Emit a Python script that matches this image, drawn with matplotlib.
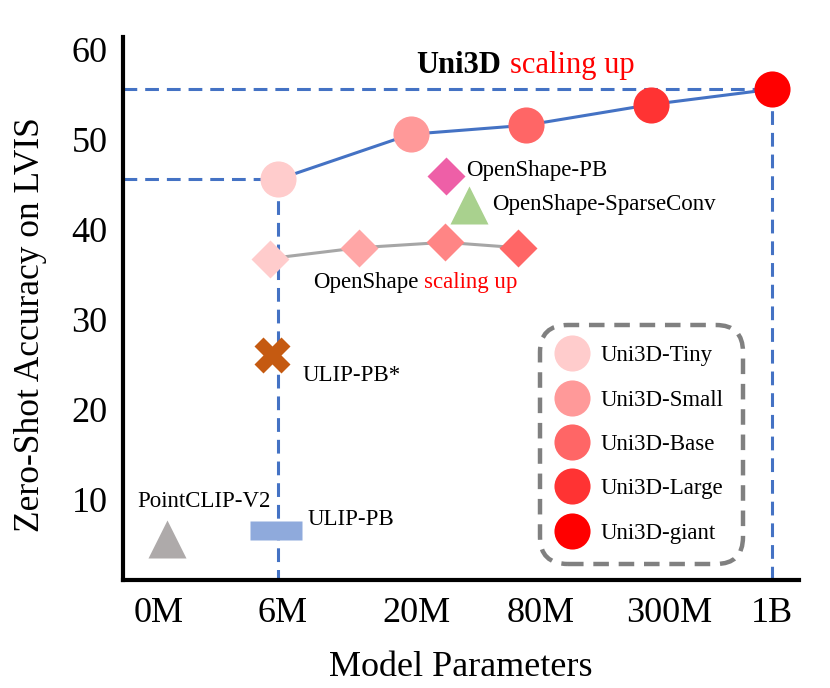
import matplotlib
matplotlib.use("Agg")
import matplotlib.pyplot as plt
from matplotlib.path import Path

plt.rcParams['font.family'] = ['Liberation Serif', 'DejaVu Serif']

# ---------------- data ----------------
tick_pos = [0.0, 1.01, 2.10, 3.11, 4.16, 5.0]
tick_labels = ["0M", "6M", "20M", "80M", "300M", "1B"]
y_ticks = [10, 20, 30, 40, 50, 60]

uni3d_names = ["Uni3D-Tiny", "Uni3D-Small", "Uni3D-Base", "Uni3D-Large", "Uni3D-giant"]
uni3d_x = [0.976, 2.055, 2.995, 4.014, 5.0]
uni3d_y = [45.6, 50.6, 51.6, 53.9, 55.6]
uni3d_colors = ["#FFCCCC", "#FF9999", "#FF6666", "#FF3333", "#FF0000"]

openshape_x = [0.909, 1.634, 2.335, 2.93]
openshape_y = [36.8, 38.0, 38.6, 38.0]
openshape_colors = ["#FFCCCC", "#FFA6A6", "#FF8585", "#FF6666"]

others_names = ["OpenShape-PB", "OpenShape-SparseConv", "ULIP-PB*", "ULIP-PB", "PointCLIP-V2"]
others_x = [2.34, 2.53, 0.923, 0.954, 0.067]
others_y = [46.0, 42.7, 26.1, 6.7, 5.7]

# ---------------- figure ----------------
fig = plt.figure(figsize=(8.3, 6.88), dpi=100)
ax = fig.add_axes([123/830, (688-580)/688, (799-123)/830, (580-37)/688])
ax.set_xlim(-0.29, 5.22)
ax.set_ylim(1.1, 61.4)

blue = "#4472C4"
dash = (4.5, 2.6)
xmin = ax.get_xlim()[0]
ymin = ax.get_ylim()[0]
# dashed guide lines
ax.plot([xmin, uni3d_x[0]], [uni3d_y[0], uni3d_y[0]], color=blue, lw=2.2, dashes=dash, zorder=1)
ax.plot([uni3d_x[0], uni3d_x[0]], [uni3d_y[0], ymin], color=blue, lw=2.2, dashes=dash, zorder=1)
ax.plot([xmin, uni3d_x[-1]], [uni3d_y[-1], uni3d_y[-1]], color=blue, lw=2.2, dashes=dash, zorder=1)
ax.plot([uni3d_x[-1], uni3d_x[-1]], [uni3d_y[-1], ymin], color=blue, lw=2.2, dashes=dash, zorder=1)

# Uni3D line + points
ax.plot(uni3d_x, uni3d_y, color=blue, lw=2.2, zorder=2)
handles = []
for x, y, c, n in zip(uni3d_x, uni3d_y, uni3d_colors, uni3d_names):
    h, = ax.plot([x], [y], marker='o', ms=26, color=c, mec='none', ls='none', zorder=3, label=n)
    handles.append(h)

# OpenShape line + diamonds
ax.plot(openshape_x, openshape_y, color="#A6A6A6", lw=2.2, zorder=2)
for x, y, c in zip(openshape_x, openshape_y, openshape_colors):
    ax.plot([x], [y], marker='D', ms=19.5, color=c, mec='none', ls='none', zorder=3)

# other methods
ax.plot([others_x[0]], [others_y[0]], marker='D', ms=19.5, color="#EE5FA7", mec='none', ls='none', zorder=3)
ax.plot([others_x[1]], [others_y[1]], marker='^', ms=27, color="#A9D18E", mec='none', ls='none', zorder=3)
ax.plot([others_x[2]], [others_y[2]], marker='X', ms=26, color="#C55A11", mec='none', ls='none', zorder=3)
rect = Path([(-1, -0.36), (1, -0.36), (1, 0.36), (-1, 0.36), (-1, -0.36)],
            [Path.MOVETO, Path.LINETO, Path.LINETO, Path.LINETO, Path.CLOSEPOLY])
ax.plot([others_x[3]], [others_y[3]], marker=rect, ms=38, color="#8FAADC", mec='none', ls='none', zorder=3)
ax.plot([others_x[4]], [others_y[4]], marker='^', ms=27, color="#AEAAAA", mec='none', ls='none', zorder=3)

fs_ann = 16.5
offsets = [(15, 3.4), (17, 0.8), (22, -15), (23, 7.5), (-21, 26.6)]
for (dx, dy), n, x, y in zip(offsets, others_names, others_x, others_y):
    ax.annotate(n, xy=(x, y), xytext=(dx, dy), textcoords='offset points',
                ha='left', va='center', fontsize=fs_ann, zorder=4)

# OpenShape scaling up label
t1 = ax.annotate("OpenShape", xy=(openshape_x[0], openshape_y[0]), xytext=(31, -21),
                 textcoords='offset points', ha='left', va='baseline', fontsize=fs_ann)
ax.annotate("scaling up", xy=(1, 0), xycoords=t1, xytext=(4, 0), textcoords='offset points',
            ha='left', va='bottom', fontsize=fs_ann, color='red')

# Uni3D scaling up title
t2 = ax.text(0.434, 0.934, "Uni3D", transform=ax.transAxes, fontsize=22,
             fontweight='bold', ha='left', va='baseline')
ax.annotate("scaling up", xy=(1, 0), xycoords=t2, xytext=(6, 0), textcoords='offset points',
            ha='left', va='bottom', fontsize=22, color='red')

# axes styling
for s in ['top', 'right']:
    ax.spines[s].set_visible(False)
for s in ['left', 'bottom']:
    ax.spines[s].set_linewidth(3)
ax.set_xticks(tick_pos)
ax.set_xticklabels(tick_labels)
ax.set_yticks(y_ticks)
ax.tick_params(axis='both', length=0, labelsize=26)
ax.tick_params(axis='x', pad=12)
ax.tick_params(axis='y', pad=11)
ax.set_xlabel("Model Parameters", fontsize=26)
ax.set_ylabel("Zero-Shot Accuracy on LVIS", fontsize=25.5)
ax.xaxis.set_label_coords(0.5, -0.13)
ax.yaxis.set_label_coords(-0.112, 0.47)

# legend
leg = ax.legend(handles=handles, loc='upper left', bbox_to_anchor=(540/830, (688-325)/688),
                bbox_transform=fig.transFigure, fontsize=fs_ann, frameon=True,
                markerscale=1.0, handlelength=1.0, handletextpad=0.75,
                labelspacing=1.02, borderpad=0.88, borderaxespad=0)
frame = leg.get_frame()
frame.set_boxstyle('round,pad=0,rounding_size=1.2')
frame.set_edgecolor('#808080')
frame.set_linewidth(3.2)
frame.set_linestyle((0, (3.5, 2.2)))
frame.set_facecolor('white')
frame.set_alpha(1)

fig.savefig("out.png", dpi=100)
